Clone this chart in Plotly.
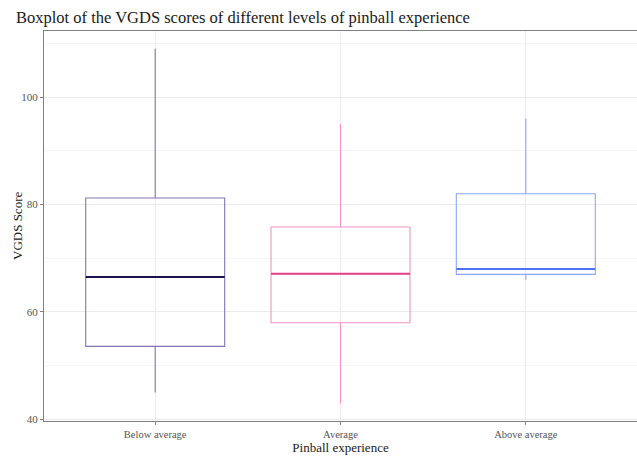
import plotly.graph_objects as go

# Summary statistics of VGDS scores per pinball-experience group
categories = ["Below average", "Average", "Above average"]
lower_whisker = [45, 43, 66]
q1 = [53.6, 58, 67]
median = [66.5, 67.1, 68]
q3 = [81.2, 75.8, 82]
upper_whisker = [109, 95, 96]

box_colors = ["#8374b0", "#f293c3", "#8fa4ff"]
median_colors = ["#1c1050", "#e8418b", "#4f70f2"]

positions = [1, 2, 3]
box_width = 0.75
font_family = "Liberation Serif, Times New Roman, serif"

fig = go.Figure()

for i, cat in enumerate(categories):
    fig.add_trace(go.Box(
        x=[positions[i]],
        q1=[q1[i]], median=[median[i]], q3=[q3[i]],
        lowerfence=[lower_whisker[i]], upperfence=[upper_whisker[i]],
        name=cat,
        width=box_width,
        whiskerwidth=0,
        fillcolor="rgba(255,255,255,0)",
        line=dict(color=box_colors[i], width=1.1),
        boxpoints=False,
        hoverinfo="skip",
    ))
    # thicker median segment drawn over the box
    fig.add_trace(go.Scatter(
        x=[positions[i] - box_width / 2, positions[i] + box_width / 2],
        y=[median[i], median[i]],
        mode="lines",
        line=dict(color=median_colors[i], width=2),
        hoverinfo="skip",
    ))

fig.update_layout(
    width=637, height=458,
    margin=dict(l=44, r=0, t=31, b=37),
    paper_bgcolor="white", plot_bgcolor="white",
    showlegend=False,
    font=dict(family=font_family),
    title=dict(
        text="Boxplot of the VGDS scores of different levels of pinball experience",
        x=16 / 637, xanchor="left", xref="container",
        y=1 - 17 / 458, yanchor="middle",
        font=dict(family=font_family, size=16.5, color="#1a1a1a"),
    ),
    annotations=[dict(
        text="VGDS Score", textangle=-90,
        xref="paper", yref="paper", x=-27 / 593, y=0.5,
        xanchor="center", yanchor="middle", showarrow=False,
        font=dict(family=font_family, size=13, color="#1a1a1a"),
    )],
)

fig.update_xaxes(
    range=[0.4, 3.6],
    tickvals=positions, ticktext=categories,
    ticks="outside", ticklen=3, tickcolor="#808080",
    tickfont=dict(size=10.5, color="#555555"),
    showgrid=True, gridcolor="#ececec", gridwidth=0.7,
    zeroline=False,
    showline=True, linecolor="#808080", linewidth=1.2, mirror=True,
    title=dict(text="Pinball experience", font=dict(size=13, color="#1a1a1a"), standoff=3),
)

fig.update_yaxes(
    range=[39.7, 112.3],
    tickvals=[40, 60, 80, 100],
    ticks="outside", ticklen=3, tickcolor="#808080",
    tickfont=dict(size=11, color="#555555"),
    showgrid=True, gridcolor="#ececec", gridwidth=0.7,
    minor=dict(tickvals=[50, 70, 90, 110], showgrid=True, gridcolor="#f5f5f5", gridwidth=0.6),
    zeroline=False,
    showline=True, linecolor="#808080", linewidth=1.2,
)

fig.write_html("out.html")
